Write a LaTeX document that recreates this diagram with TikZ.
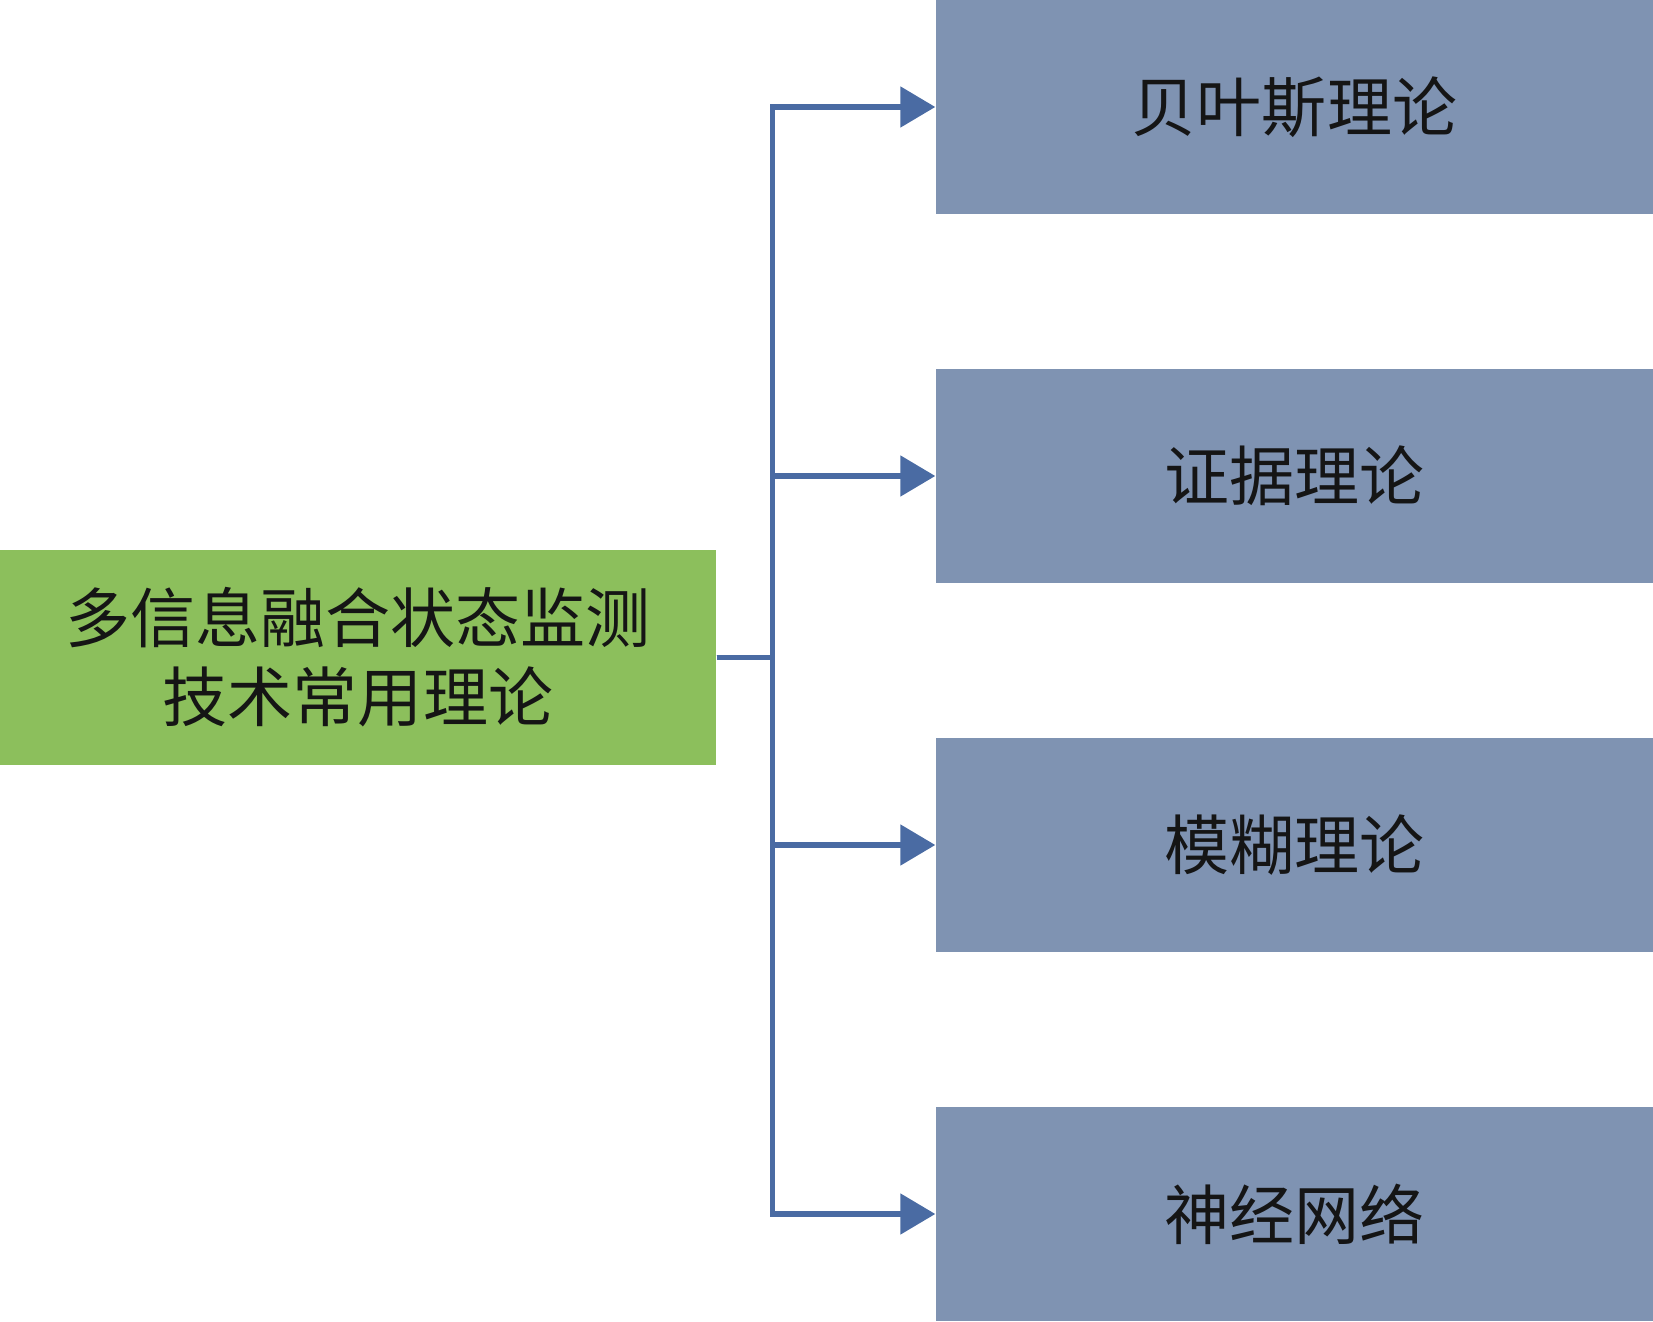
\documentclass[tikz,border=0pt]{standalone}
\usepackage{fontspec}
\usepackage{xcolor}
\usepackage{tikz}
\usetikzlibrary{arrows.meta,calc}
\newfontfamily\cjk{Noto Sans CJK SC}
\definecolor{leaf}{HTML}{8CBF5C}
\definecolor{slate}{HTML}{7F93B2}
\definecolor{wire}{HTML}{4A6BA3}
\definecolor{ink}{HTML}{151515}
\tikzset{
  rootbox/.style={fill=leaf, draw=none, minimum width=7.16cm, minimum height=2.15cm, align=center, text=ink, font=\cjk\fontsize{18.5}{22.5}\selectfont},
  theory/.style={fill=slate, draw=none, minimum width=7.17cm, minimum height=2.14cm, text=ink, font=\cjk\fontsize{18.5}{22.5}\selectfont},
  conn/.style={draw=wire, line width=1.5pt, -{Triangle[length=3.5mm,width=4mm]}},
}
\begin{document}
\begin{tikzpicture}
  \useasboundingbox (0,0) rectangle (16.53,13.21);
  % source box
  \node[rootbox] (src) at (3.58,6.635) {多信息融合状态监测\\技术常用理论};
  % theory boxes
  \node[theory] (t1) at (12.945,12.14) {贝叶斯理论};
  \node[theory] (t2) at (12.945,8.45) {证据理论};
  \node[theory] (t3) at (12.945,4.76) {模糊理论};
  \node[theory] (t4) at (12.945,1.07) {神经网络};
  \coordinate (trunk) at ($(src.east)+(0.56,0)$);
  \foreach \t in {t1,t2,t3,t4}
    \draw[conn] (src.east) -- (trunk) |- (\t.west);
\end{tikzpicture}
\end{document}
